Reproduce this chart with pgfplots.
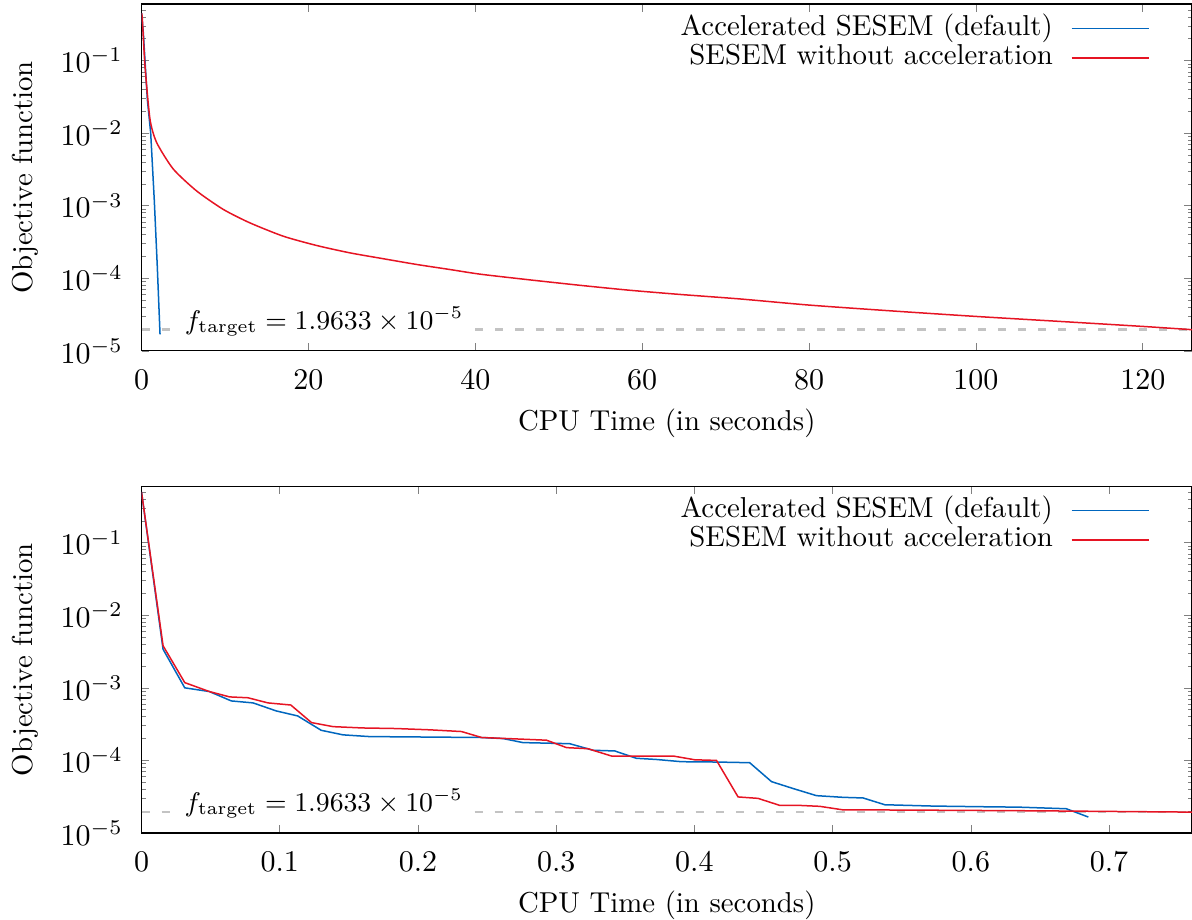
\documentclass[border=0pt]{standalone}
\usepackage{pgfplots}
\pgfplotsset{compat=1.18}
\definecolor{accblue}{RGB}{0,102,190}
\definecolor{plainred}{RGB}{230,20,35}
\definecolor{targetgray}{RGB}{195,195,195}
\pgfplotsset{
  every axis/.append style={
    scale only axis,
    width=350.17pt, height=115.6pt,
    ymin=1e-5, ymax=0.6,
    major tick length=2.6pt, minor tick length=1.4pt,
    tick align=inside,
    xtick pos=both, ytick pos=both,
    xticklabel style={yshift=-3pt},
    yticklabel style={xshift=-2.8pt},
    xlabel style={at={(axis description cs:0.5,0)}, anchor=center, yshift=-24pt},
    ylabel style={at={(axis description cs:-0.1108,0.5)}, anchor=center},
    legend plot pos=right,
    legend cell align=right,
    legend style={draw=none, fill=none, inner xsep=0pt, inner ysep=0pt,
      at={(axis description cs:1,1)}, anchor=north east,
      xshift=-14pt, yshift=-3pt,
      nodes={inner xsep=2pt, inner ysep=0.25pt, text height=7pt, text depth=2.3pt},
      column sep=4pt},
  },
  legend image code/.code={\draw[#1] (0pt,0pt) -- (25.7pt,0pt);},
}
\begin{document}
\fontsize{9.6pt}{11.5pt}\selectfont
\begin{tikzpicture}
\path[use as bounding box] (0,0) rectangle (397.33pt,306.67pt);

% ---------------- top axis ----------------
\begin{semilogyaxis}[at={(47.17pt,189.7pt)}, anchor=south west,
  xmin=0, xmax=125.9, xtick={0,20,40,60,80,100,120},
  xlabel={CPU Time (in seconds)}, ylabel={Objective function}]
\addplot[targetgray, line width=0.8pt, dash pattern=on 2.7pt off 4pt, forget plot]
  coordinates {(0,1.9633e-5) (3.4,1.9633e-5)};
\addplot[targetgray, line width=0.8pt, dash pattern=on 2.7pt off 4pt, forget plot]
  coordinates {(40,1.9633e-5) (125.9,1.9633e-5)};
\addplot[accblue, line width=0.5pt] coordinates {
  (0,0.45) (0.22,0.24) (0.70,0.029) (1.1,0.0101) (1.53,1.2e-3)
  (1.89,1.47e-4) (2.22,1.69e-5)
};
\addlegendentry{Accelerated SESEM (default)}
\addplot[plainred, line width=0.5pt, smooth, tension=0.4] coordinates {
  (0,0.45) (0.1,0.37) (0.42,0.083) (1.02,0.0155) (1.82,0.0074)
  (3.81,0.0032) (6.6,0.0016) (9.8,8.9e-4) (13,5.8e-4)
  (17,3.8e-4) (21,2.83e-4) (25,2.24e-4) (29,1.86e-4) (33,1.55e-4)
  (37,1.32e-4) (40.6,1.14e-4)
  (46.6,9.5e-5) (52.6,8.0e-5) (58.5,6.85e-5) (64.5,6.0e-5)
  (71.7,5.2e-5) (80.1,4.27e-5) (90,3.55e-5) (100.1,2.98e-5)
  (110,2.55e-5) (120.1,2.17e-5) (125.9,1.96e-5)
};
\addlegendentry{SESEM without acceleration}
\node[anchor=base west, inner sep=0pt, font=\fontsize{9.1pt}{11pt}\selectfont]
  at (axis cs:5.13,1.9633e-5)
  {$f_{\mathrm{target}} = 1.9633 \times 10^{-5}$};
\end{semilogyaxis}

% ---------------- bottom axis ----------------
\begin{semilogyaxis}[at={(47.17pt,29.0pt)}, anchor=south west,
  xmin=0, xmax=0.76, xtick={0,0.1,0.2,0.3,0.4,0.5,0.6,0.7},
  xlabel={CPU Time (in seconds)}, ylabel={Objective function}]
\addplot[targetgray, line width=0.8pt, dash pattern=on 2.7pt off 4pt, forget plot]
  coordinates {(0,1.9633e-5) (0.0204,1.9633e-5)};
\addplot[targetgray, line width=0.8pt, dash pattern=on 2.7pt off 4pt, forget plot]
  coordinates {(0.241,1.9633e-5) (0.76,1.9633e-5)};
\addplot[accblue, line width=0.5pt] coordinates {
  (0,0.5) (0.0156,3.4e-3) (0.0313,1.0e-3) (0.049,8.9e-4) (0.065,6.6e-4)
  (0.0807,6.2e-4) (0.0976,4.8e-4) (0.113,4.1e-4) (0.130,2.6e-4)
  (0.1458,2.25e-4) (0.165,2.13e-4) (0.245,2.07e-4) (0.2616,2.0e-4)
  (0.276,1.76e-4) (0.293,1.73e-4) (0.3098,1.7e-4) (0.3267,1.38e-4)
  (0.3424,1.35e-4) (0.358,1.07e-4) (0.3726,1.03e-4) (0.3907,9.6e-5)
  (0.416,9.5e-5) (0.440,9.3e-5) (0.4558,5.1e-5) (0.4714,4.1e-5)
  (0.4883,3.27e-5) (0.5076,3.1e-5) (0.522,3.04e-5) (0.5378,2.45e-5)
  (0.5727,2.35e-5) (0.609,2.3e-5) (0.635,2.27e-5) (0.669,2.16e-5)
  (0.685,1.66e-5)
};
\addlegendentry{Accelerated SESEM (default)}
\addplot[plainred, line width=0.5pt] coordinates {
  (0,0.5) (0.0156,3.8e-3) (0.0313,1.18e-3) (0.049,8.9e-4) (0.0638,7.5e-4)
  (0.077,7.3e-4) (0.0915,6.2e-4) (0.108,5.8e-4) (0.123,3.32e-4)
  (0.1386,2.92e-4) (0.160,2.8e-4) (0.184,2.75e-4) (0.2085,2.64e-4)
  (0.2315,2.5e-4) (0.246,2.07e-4) (0.293,1.9e-4) (0.3075,1.5e-4)
  (0.323,1.45e-4) (0.340,1.15e-4) (0.3846,1.15e-4) (0.4003,1.02e-4)
  (0.416,1.0e-4) (0.4316,3.14e-5) (0.446,3.0e-5) (0.4618,2.4e-5)
  (0.476,2.4e-5) (0.4907,2.33e-5) (0.507,2.09e-5) (0.573,2.06e-5)
  (0.65,2.02e-5) (0.717,1.97e-5) (0.76,1.94e-5)
};
\addlegendentry{SESEM without acceleration}
\node[anchor=base west, inner sep=0pt, font=\fontsize{9.1pt}{11pt}\selectfont]
  at (axis cs:0.0307,1.9633e-5)
  {$f_{\mathrm{target}} = 1.9633 \times 10^{-5}$};
\end{semilogyaxis}
\end{tikzpicture}
\end{document}
